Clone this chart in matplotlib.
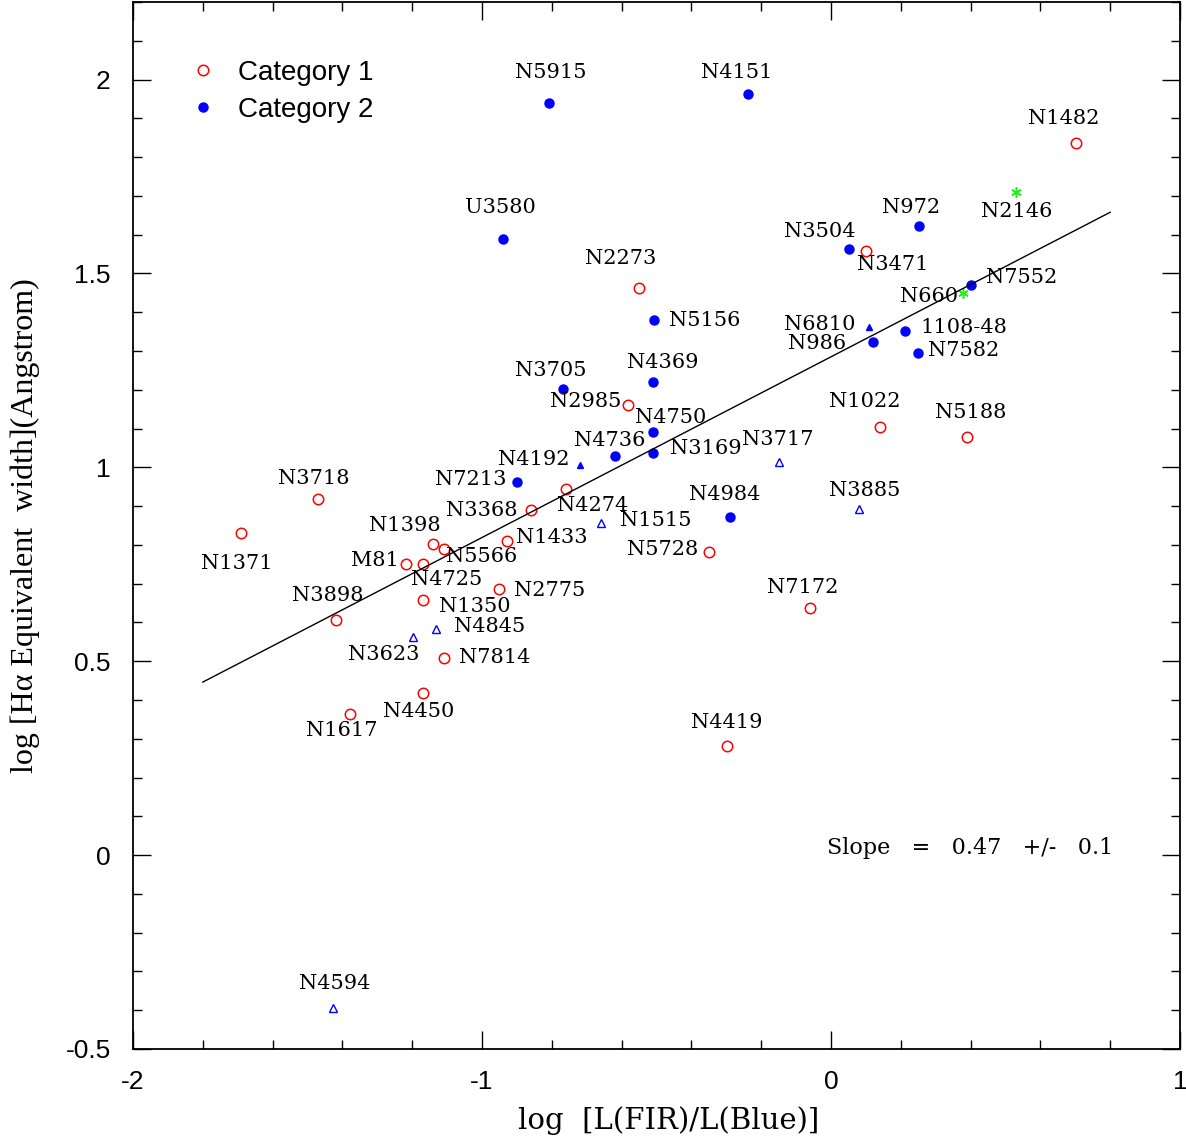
import matplotlib
matplotlib.use("Agg")
import matplotlib.pyplot as plt
from matplotlib.ticker import MultipleLocator, FuncFormatter

# category 1 : red open circles
cat1_names = ["N1482", "N3471", "N2273", "N2985", "N1022", "N5188", "N3718", "N1371",
              "N4274", "N3368", "N1433", "N1398", "N5566", "M81", "N4725", "N2775",
              "N1350", "N3898", "N7814", "N4450", "N1617", "N4419", "N5728", "N7172"]
cat1_x = [0.702, 0.100, -0.550, -0.582, 0.140, 0.391, -1.470, -1.691,
          -0.759, -0.860, -0.928, -1.140, -1.109, -1.218, -1.169, -0.951,
          -1.169, -1.418, -1.109, -1.169, -1.378, -0.297, -0.350, -0.060]
cat1_y = [1.837, 1.558, 1.463, 1.160, 1.103, 1.078, 0.918, 0.830,
          0.943, 0.889, 0.809, 0.802, 0.789, 0.750, 0.750, 0.686,
          0.657, 0.606, 0.508, 0.418, 0.364, 0.282, 0.781, 0.636]

# category 2 : blue filled circles
cat2_names = ["N5915", "N4151", "U3580", "N972", "N3504", "N7552", "N5156", "1108-48",
              "N986", "N7582", "N3705", "N4369", "N4750", "N4736", "N3169", "N7213", "N4984"]
cat2_x = [-0.809, -0.238, -0.940, 0.252, 0.052, 0.401, -0.508, 0.211,
          0.120, 0.250, -0.769, -0.509, -0.509, -0.619, -0.509, -0.899, -0.289]
cat2_y = [1.940, 1.964, 1.588, 1.623, 1.564, 1.469, 1.379, 1.351,
          1.324, 1.295, 1.203, 1.220, 1.092, 1.028, 1.036, 0.961, 0.871]

# blue filled triangles
tri_f_names = ["N4192", "N6810"]
tri_f_x = [-0.720, 0.109]
tri_f_y = [1.005, 1.361]

# blue open triangles
tri_o_names = ["N3717", "N3885", "N1515", "N3623", "N4845", "N4594"]
tri_o_x = [-0.149, 0.080, -0.659, -1.198, -1.131, -1.428]
tri_o_y = [1.014, 0.892, 0.857, 0.562, 0.584, -0.393]

# green asterisks
star_names = ["N2146", "N660"]
star_x = [0.531, 0.378]
star_y = [1.710, 1.450]

# fitted line
fit_slope = 0.466
fit_intercept = 1.285
fit_xrange = [-1.8, 0.8]

# label offsets (pixels) from each point
offsets = {
    "N1482": (-12, 24), "N3471": (27, -14), "N2273": (-18, 29), "N2985": (-42, 4),
    "N1022": (-15, 26), "N5188": (3, 25), "N3718": (-4, 21), "N1371": (-4, -30),
    "N4274": (27, -16), "N3368": (-49, 0), "N1433": (45, 4), "N1398": (-28, 19),
    "N5566": (38, -7), "M81": (-31, 4), "N4725": (24, -15), "N2775": (51, -1),
    "N1350": (52, -6), "N3898": (-8, 25), "N7814": (51, 1), "N4450": (-4, -18),
    "N1617": (-8, -17), "N4419": (-1, 23), "N5728": (-46, 3), "N7172": (-7, 21),
    "N5915": (2, 30), "N4151": (-11, 21), "U3580": (-3, 32), "N972": (-8, 18),
    "N3504": (-29, 17), "N7552": (51, 8), "N5156": (51, 0), "1108-48": (59, 4),
    "N986": (-56, -2), "N7582": (45, 2), "N3705": (-12, 18), "N4369": (9, 20),
    "N4750": (17, 14), "N4736": (-5, 16), "N3169": (52, 5), "N7213": (-46, 3),
    "N4984": (-5, 23), "N4192": (-46, 6), "N6810": (-49, 3), "N3717": (-1, 22),
    "N3885": (6, 19), "N1515": (55, 2), "N3623": (-29, -17), "N4845": (53, 2),
    "N4594": (2, 24), "N2146": (0, -19), "N660": (-34, -4),
}

fig = plt.figure(figsize=(11.86, 11.41), dpi=100)
ax = fig.add_axes([133 / 1186, 92 / 1141, 1047 / 1186, 1047 / 1141])

ax.plot(cat1_x, cat1_y, "o", mfc="none", mec="red", ms=7.5, mew=1.1, ls="none", label="Category 1")
ax.plot(cat2_x, cat2_y, "o", color="blue", ms=6.5, ls="none", label="Category 2")
ax.plot(tri_f_x, tri_f_y, "^", color="blue", ms=5, ls="none")
ax.plot(tri_o_x, tri_o_y, "^", mfc="none", mec="blue", ms=5.5, mew=1.0, ls="none")
ax.plot(star_x, star_y, marker=(6, 2, 0), color="#22ee22", ms=7.5, mew=1.1, ls="none")

xf = fit_xrange
ax.plot(xf, [fit_slope * v + fit_intercept for v in xf], color="black", lw=1.0)

all_names = cat1_names + cat2_names + tri_f_names + tri_o_names + star_names
all_x = cat1_x + cat2_x + tri_f_x + tri_o_x + star_x
all_y = cat1_y + cat2_y + tri_f_y + tri_o_y + star_y
for nom, x, y in zip(all_names, all_x, all_y):
    dx, dy = offsets[nom]
    ax.annotate(nom, (x, y), xytext=(dx, dy), textcoords="offset pixels",
                ha="center", va="center", fontsize=15, family="DejaVu Serif")

ax.text(0.800, 0.192, "Slope   =   0.47   +/-   0.1", transform=ax.transAxes,
        ha="center", va="center", fontsize=16, family="DejaVu Serif")

ax.set_xlim(-2, 1)
ax.set_ylim(-0.5, 2.2)
ax.xaxis.set_major_locator(MultipleLocator(1.0))
ax.xaxis.set_minor_locator(MultipleLocator(0.2))
ax.yaxis.set_major_locator(MultipleLocator(0.5))
ax.yaxis.set_minor_locator(MultipleLocator(0.1))
fmt = FuncFormatter(lambda v, _: f"{v:g}")
ax.xaxis.set_major_formatter(fmt)
ax.yaxis.set_major_formatter(fmt)
ax.tick_params(which="both", direction="in", top=True, right=True, width=1.0)
ax.tick_params(which="major", length=13, labelsize=19)
ax.tick_params(axis="x", which="major", pad=15)
ax.tick_params(axis="y", which="major", pad=16)
ax.tick_params(which="minor", length=6.5)
for lab in ax.get_xticklabels() + ax.get_yticklabels():
    lab.set_family("Liberation Sans")
for sp in ax.spines.values():
    sp.set_linewidth(1.3)

ax.set_xlabel("log  [L(FIR)/L(Blue)]", fontsize=21, family="DejaVu Serif")
ax.xaxis.set_label_coords(0.512, -0.068)
ax.xaxis.label.set_va("center")
ax.set_ylabel("log [Hα Equivalent  width](Angstrom)", fontsize=23,
              family="Liberation Serif")
ax.yaxis.set_label_coords(-0.103, 0.5)
ax.yaxis.label.set_va("center")

ax.legend(loc="upper left", bbox_to_anchor=(0.0535, 0.945), frameon=False,
          handlelength=1.0, handletextpad=0.76, labelspacing=0.4,
          borderpad=0, borderaxespad=0, prop={"family": "Liberation Sans", "size": 20})

fig.savefig("out.png", dpi=100)
